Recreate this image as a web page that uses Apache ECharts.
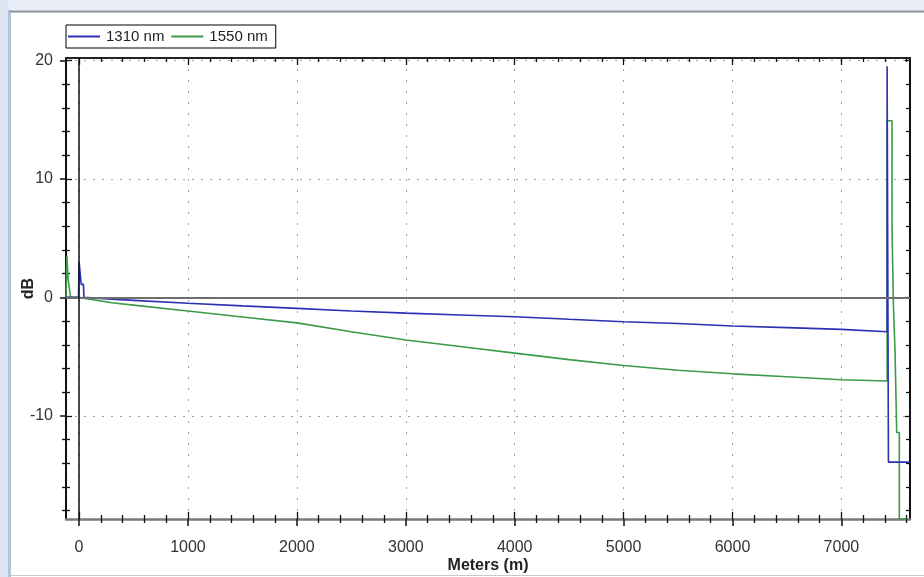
<!DOCTYPE html>
<html>
<head>
<meta charset="utf-8">
<title>OTDR trace</title>
<script src="https://cdn.jsdelivr.net/npm/echarts@6/dist/echarts.min.js"></script>
<style>
  html, body { margin: 0; padding: 0; background: #fff; }
  #main { width: 924px; height: 577px; }
</style>
</head>
<body>
<div id="main"></div>
<script>
// distance (m) / level (dB)
var blueX = [-120, -5, 0, 15, 20, 40, 45, 300, 500, 1000, 1500, 2000, 2500, 3000, 3500, 4000, 4500, 5000, 5500, 6000, 6500, 7000, 7420, 7420, 7432, 7432, 7630];
var blueY = [0, 0, 3.0, 3.0, 1.1, 1.1, 0, -0.15, -0.25, -0.5, -0.72, -0.93, -1.15, -1.33, -1.48, -1.63, -1.85, -2.05, -2.2, -2.42, -2.55, -2.7, -2.9, 19.5, 19.5, -13.9, -13.9];

var greenX = [-120, -112, -100, -85, -78, 0, 300, 500, 1000, 1500, 2000, 2500, 3000, 3500, 4000, 4500, 5000, 5500, 6000, 6500, 7000, 7420, 7420, 7465, 7465, 7478, 7478, 7493, 7493, 7508, 7508, 7532, 7532, 7600];
var greenY = [0, 3.5, 1.5, 1.5, 0, 0, -0.45, -0.65, -1.15, -1.65, -2.15, -2.9, -3.6, -4.15, -4.7, -5.25, -5.75, -6.15, -6.45, -6.7, -6.95, -7.05, 14.9, 14.9, 5.8, 5.8, -0.7, -0.7, -4.7, -4.7, -11.4, -11.4, -18.7, -18.7];

var xTicks = [0, 1000, 2000, 3000, 4000, 5000, 6000, 7000];
var yTicks = [-10, 0, 10, 20];

var X_MIN = -120, X_MAX = 7630, Y_MIN = -18.7, Y_MAX = 20.2;

// minor ticks: 200 m / 2 dB
var xMinor = [];
for (var m = 200; m <= X_MAX; m += 200) { if (m % 1000 !== 0) xMinor.push(m); }
var yMinor = [];
for (var d = -18; d <= 20; d += 2) { if (d % 10 !== 0) yMinor.push(d); }

function zip(a, b) {
    var out = [];
    for (var i = 0; i < a.length; i++) out.push([a[i], b[i]]);
    return out;
}

var font = '"Liberation Sans", Arial, sans-serif';

// helper axes that only draw tick marks
function tickX(position, values, len, inside) {
    return {
        type: 'value', position: position, min: X_MIN, max: X_MAX,
        axisLine: { show: false, onZero: false },
        axisTick: { show: true, customValues: values, length: len, inside: inside, lineStyle: { color: '#111', width: 1.3 } },
        axisLabel: { show: false },
        splitLine: { show: false }
    };
}
function tickY(position, values, len, inside) {
    return {
        type: 'value', position: position, min: Y_MIN, max: Y_MAX,
        axisLine: { show: false, onZero: false },
        axisTick: { show: true, customValues: values, length: len, inside: inside, lineStyle: { color: '#111', width: 1.3 } },
        axisLabel: { show: false },
        splitLine: { show: false }
    };
}

var chart = echarts.init(document.getElementById('main'));

var option = {
    animation: false,
    backgroundColor: '#ffffff',
    grid: { left: 66, right: 14, top: 58, bottom: 58, containLabel: false, outerBoundsMode: 'none' },
    graphic: [
        // window frame
        { type: 'rect', shape: { x: 0, y: 0, width: 924, height: 10 }, style: { fill: '#e8ecf6' }, silent: true },
        { type: 'rect', shape: { x: 0, y: 0, width: 8, height: 577 }, style: { fill: '#dde5f2' }, silent: true },
        { type: 'rect', shape: { x: 8, y: 10, width: 3, height: 567 }, style: { fill: '#b3c1da' }, silent: true },
        { type: 'line', shape: { x1: 10, y1: 11.5, x2: 924, y2: 11.5 }, style: { stroke: '#8a9098', lineWidth: 2 }, silent: true },
        { type: 'line', shape: { x1: 10, y1: 575.5, x2: 924, y2: 575.5 }, style: { stroke: '#c8c8c8', lineWidth: 1 }, silent: true }
    ],
    legend: {
        data: ['1310 nm', '1550 nm'],
        left: 66, top: 25,
        orient: 'horizontal',
        icon: 'rect',
        itemWidth: 32, itemHeight: 2,
        itemGap: 7,
        padding: [4, 8, 4, 2],
        borderColor: '#000', borderWidth: 1,
        backgroundColor: '#fff',
        textStyle: { fontFamily: font, fontSize: 15, color: '#222', padding: [0, 0, 0, 1] }
    },
    xAxis: [
        {
            type: 'value', position: 'bottom', min: X_MIN, max: X_MAX,
            name: 'Meters (m)', nameLocation: 'middle', nameGap: 39, nameMoveOverlap: false,
            nameTextStyle: { fontFamily: font, fontWeight: 'bold', fontSize: 16, color: '#222' },
            axisLine: { show: true, onZero: false, lineStyle: { color: '#7a7a7a', width: 2.5 } },
            axisTick: { show: true, customValues: xTicks, length: 7, inside: false, lineStyle: { color: '#111', width: 1.5 } },
            axisLabel: {
                customValues: xTicks, margin: 21, fontFamily: font, fontSize: 16, color: '#333',
                formatter: function (v) { return String(v); }
            },
            splitLine: { show: true, lineStyle: { color: '#a0a0a0', width: 1, type: [2, 9] } }
        },
        tickX('bottom', xTicks, 7, true),
        tickX('bottom', xMinor, 4, false),
        tickX('bottom', xMinor, 4, true),
        {
            type: 'value', position: 'top', min: X_MIN, max: X_MAX,
            axisLine: { show: true, onZero: false, lineStyle: { color: '#222', width: 2 } },
            axisTick: { show: true, customValues: xTicks, length: 7, inside: true, lineStyle: { color: '#111', width: 1.3 } },
            axisLabel: { show: false },
            splitLine: { show: false }
        },
        tickX('top', xMinor, 4, true)
    ],
    yAxis: [
        {
            type: 'value', position: 'left', min: Y_MIN, max: Y_MAX,
            name: 'dB', nameLocation: 'middle', nameGap: 29, nameMoveOverlap: false,
            nameTextStyle: { fontFamily: font, fontWeight: 'bold', fontSize: 16, color: '#222' },
            axisLine: { show: true, onZero: false, lineStyle: { color: '#111', width: 2 } },
            axisTick: { show: true, customValues: yTicks, length: 6, inside: false, lineStyle: { color: '#111', width: 1.5 } },
            axisLabel: {
                customValues: yTicks, margin: 13, fontFamily: font, fontSize: 16, color: '#333',
                formatter: function (v) { return String(v); }
            },
            splitLine: { show: true, lineStyle: { color: '#a0a0a0', width: 1, type: [2, 7] } }
        },
        tickY('left', yTicks, 6, true),
        tickY('left', yMinor, 4, false),
        tickY('left', yMinor, 4, true),
        {
            type: 'value', position: 'right', min: Y_MIN, max: Y_MAX,
            axisLine: { show: true, onZero: false, lineStyle: { color: '#111', width: 2 } },
            axisTick: { show: true, customValues: yTicks, length: 5, inside: true, lineStyle: { color: '#111', width: 1.3 } },
            axisLabel: { show: false },
            splitLine: { show: false }
        },
        tickY('right', yMinor, 4, true)
    ],
    series: [
        {
            // zero lines of the trace display
            name: 'ref', type: 'line', data: [], z: 1,
            markLine: {
                silent: true, symbol: ['none', 'none'], label: { show: false },
                data: [
                    { yAxis: 0, lineStyle: { color: '#6e6e6e', width: 2, type: 'solid' } },
                    { xAxis: 0, lineStyle: { color: '#111', width: 1.5, type: 'solid' } }
                ]
            }
        },
        {
            name: '1550 nm', type: 'line', data: zip(greenX, greenY),
            symbol: 'none', showSymbol: false, z: 3,
            color: '#3c9a48',
            lineStyle: { color: '#3c9a48', width: 1.6 }
        },
        {
            name: '1310 nm', type: 'line', data: zip(blueX, blueY),
            symbol: 'none', showSymbol: false, z: 4,
            color: '#2c30b4',
            lineStyle: { color: '#2c30b4', width: 1.6 }
        }
    ]
};

chart.setOption(option);
</script>
</body>
</html>
